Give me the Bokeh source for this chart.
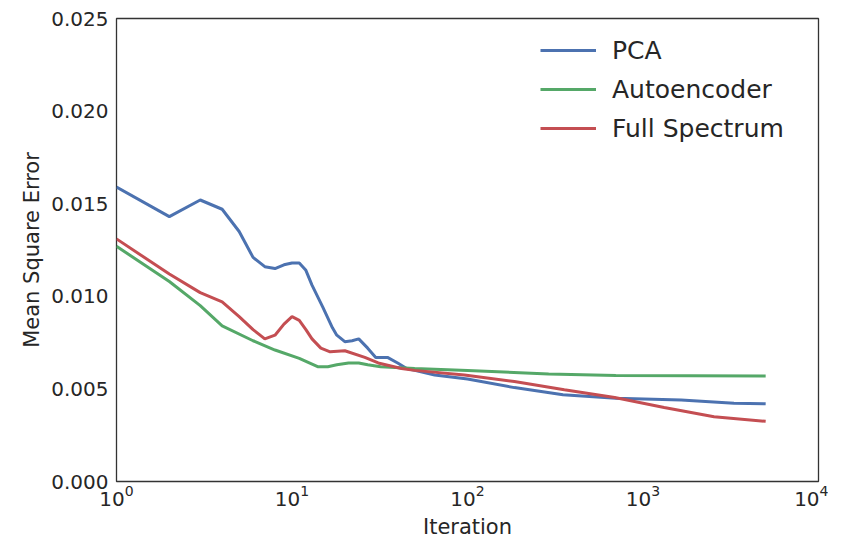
from bokeh.plotting import figure
from bokeh.models import Range1d, FixedTicker, NumeralTickFormatter, LogTickFormatter, Legend, LegendItem
from bokeh.embed import file_html
from bokeh.resources import INLINE

pca_x = [1, 2, 3, 4, 5, 6, 7, 8, 9, 10, 11, 12, 13, 15, 17, 18, 20, 22, 24, 27, 30, 35, 40, 45, 50, 65, 100, 185, 350, 700, 1650, 3300, 5000]
pca_y = [0.0159, 0.0143, 0.0152, 0.0147, 0.0135, 0.0121, 0.0116, 0.0115, 0.0117, 0.0118, 0.0118, 0.0114, 0.0106, 0.0094, 0.0083, 0.0079, 0.00755, 0.0076, 0.0077, 0.0072, 0.0067, 0.0067, 0.0064, 0.0061, 0.0060, 0.00575, 0.00553, 0.00507, 0.00468, 0.0045, 0.0044, 0.00423, 0.0042]

ae_x = [1, 2, 3, 4, 6, 8, 11, 14, 16, 18, 21, 24, 27, 32, 50, 100, 290, 700, 5000]
ae_y = [0.0127, 0.0108, 0.0095, 0.0084, 0.0076, 0.0071, 0.00665, 0.0062, 0.0062, 0.0063, 0.0064, 0.0064, 0.0063, 0.0062, 0.0061, 0.0060, 0.0058, 0.00572, 0.0057]

fs_x = [1, 2, 3, 4, 5, 6, 7, 8, 9, 10, 11, 12, 13, 14.6, 16.5, 20, 26, 31, 42, 50, 96, 185, 356, 690, 1320, 2540, 5000]
fs_y = [0.0131, 0.0112, 0.0102, 0.0097, 0.0089, 0.0082, 0.0077, 0.0079, 0.0085, 0.0089, 0.0087, 0.0082, 0.0077, 0.0072, 0.0070, 0.00706, 0.0067, 0.0064, 0.0061, 0.0060, 0.00575, 0.0054, 0.00495, 0.00454, 0.0040, 0.0035, 0.00325]

x_ticks = [1, 10, 100, 1000, 10000]
y_ticks = [0.0, 0.005, 0.010, 0.015, 0.020, 0.025]

FONT = "DejaVu Sans"
TXT = "#262626"

p = figure(width=828, height=541, x_axis_type="log",
           x_range=Range1d(1, 10000), y_range=Range1d(0, 0.025),
           output_backend="svg", toolbar_location=None,
           min_border_left=116, min_border_right=10, min_border_top=18, min_border_bottom=57)

p.outline_line_color = "#333333"
p.outline_line_width = 1.3
p.xgrid.visible = False
p.ygrid.visible = False
p.background_fill_color = "white"
p.border_fill_color = "white"

r1 = p.line(pca_x, pca_y, line_color="#4C72B0", line_width=3)
r2 = p.line(ae_x, ae_y, line_color="#55A868", line_width=3)
r3 = p.line(fs_x, fs_y, line_color="#C44E52", line_width=3)

p.xaxis.ticker = FixedTicker(ticks=x_ticks)
p.xaxis.formatter = LogTickFormatter()
p.yaxis.ticker = FixedTicker(ticks=y_ticks)
p.yaxis.formatter = NumeralTickFormatter(format="0.000")

for ax in (p.xaxis[0], p.yaxis[0]):
    ax.axis_line_color = None
    ax.major_tick_line_color = None
    ax.minor_tick_line_color = None
    ax.major_tick_in = 0
    ax.major_tick_out = 0
    ax.minor_tick_in = 0
    ax.minor_tick_out = 0
    ax.major_label_text_font = FONT
    ax.major_label_text_font_size = "20px"
    ax.major_label_text_color = TXT
    ax.axis_label_text_font = FONT
    ax.axis_label_text_font_size = "21px"
    ax.axis_label_text_font_style = "normal"
    ax.axis_label_text_color = TXT

p.xaxis.axis_label = "Iteration"
p.yaxis.axis_label = "Mean Square Error"
p.xaxis.major_label_standoff = 3
p.yaxis.major_label_standoff = 8
p.xaxis.axis_label_standoff = 6
p.yaxis.axis_label_standoff = 4

legend = Legend(items=[LegendItem(label="PCA", renderers=[r1]),
                       LegendItem(label="Autoencoder", renderers=[r2]),
                       LegendItem(label="Full Spectrum", renderers=[r3])],
                location=(424, 338))
legend.border_line_color = None
legend.background_fill_alpha = 0
legend.label_text_font = FONT
legend.label_text_font_size = "25px"
legend.label_text_color = TXT
legend.glyph_width = 56
legend.glyph_height = 30
legend.label_height = 30
legend.label_standoff = 16
legend.spacing = 9
legend.padding = 6
legend.margin = 0
p.add_layout(legend)

open("out.html", "w").write(file_html(p, INLINE))
